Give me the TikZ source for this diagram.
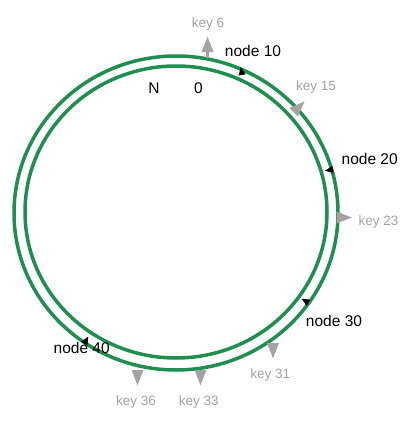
\documentclass[tikz,border=0pt]{standalone}
\usepackage{fontspec}
\setmainfont{Liberation Sans}
\definecolor{ringgreen}{RGB}{32,142,80}
\definecolor{keygray}{RGB}{163,163,163}
\tikzset{
  ring/.style={draw=ringgreen, line width=3.5pt},
  nodelabel/.style={anchor=base, inner sep=0pt, font=\fontsize{15.5}{18}\selectfont, text=black},
  keylabel/.style={anchor=base, inner sep=0pt, font=\fontsize{13.5}{16}\selectfont, text=keygray},
  keytip/.pic={\fill[keygray] (7.8,0) -- (-7.5,6) -- (-7.5,-6) -- cycle;},
  nodetip/.pic={\fill[black] (4.5,0) -- (-3.5,3.6) -- (-3.5,-3.6) -- cycle;}
}
\begin{document}
\begin{tikzpicture}[x=1pt,y=-1pt]
\useasboundingbox (0,0) rectangle (415,423);
\fill[white] (0,0) rectangle (415,423);
% rings
\draw[ring] (176,213) ellipse [x radius=162, y radius=157];
\draw[ring] (176,212) ellipse [x radius=151, y radius=146];
% key arrows
\fill[keygray] (205.6,51) rectangle (208.6,58);
\pic[rotate=90] at (207.5,44.5) {keytip};
\pic[rotate=45] at (299,107) {keytip};
\pic[rotate=0] at (344,217.5) {keytip};
\pic[rotate=-90] at (273,350.5) {keytip};
\pic[rotate=-90] at (200.5,377.5) {keytip};
\pic[rotate=-90] at (137.5,377.5) {keytip};
% node markers
\pic[rotate=100] at (241.5,71.5) {nodetip};
\pic[rotate=190] at (329.5,170) {nodetip};
\pic[rotate=150] at (305.5,301) {nodetip};
\pic[rotate=60] at (86,340.5) {nodetip};
% labels
\node[nodelabel] (lN) at (154,93) {N};
\node[nodelabel] (l0) at (198.5,93) {0};
\node[nodelabel] (n10) at (253,56.7) {node 10};
\node[nodelabel] (n20) at (369.7,164.3) {node 20};
\node[nodelabel] (n30) at (334,326) {node 30};
\node[nodelabel] (n40) at (81.7,353.3) {node 40};
\node[keylabel] (k6) at (208,27.5) {key 6};
\node[keylabel] (k15) at (316,90.7) {key 15};
\node[keylabel] (k23) at (378.5,225) {key 23};
\node[keylabel] (k31) at (270.3,378.3) {key 31};
\node[keylabel] (k33) at (198.8,405) {key 33};
\node[keylabel] (k36) at (136,405) {key 36};
\end{tikzpicture}
\end{document}
